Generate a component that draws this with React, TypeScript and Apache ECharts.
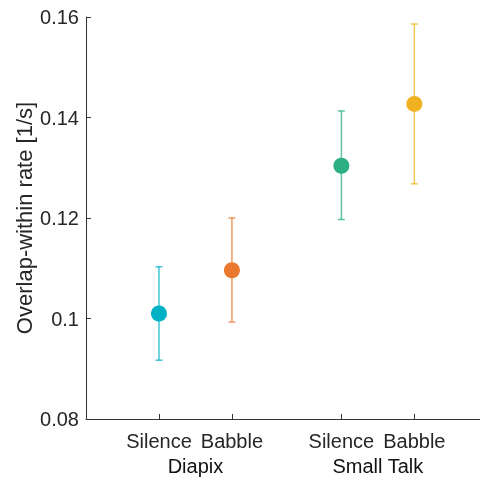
import React, { useEffect, useRef } from "react";
import * as echarts from "echarts";

const conditions = ["Silence", "Babble", "Silence", "Babble"];
const positions = [1, 2, 3.5, 4.5];
const groups = ["Diapix", "Small Talk"];
const groupPositions = [1.5, 4];
const means = [0.1010, 0.1096, 0.1304, 0.1427];
const lower = [0.0917, 0.0993, 0.1197, 0.1268];
const upper = [0.1103, 0.1200, 0.1413, 0.1586];
const colors = ["#00B1C5", "#E8792E", "#2DAF84", "#EFB11F"];
const yTicks = [0.08, 0.1, 0.12, 0.14, 0.16];

export default function App() {
  const ref = useRef<HTMLDivElement>(null);
  useEffect(() => {
    if (!ref.current) return;
    const chart = echarts.init(ref.current, null, { renderer: "svg" });
    const font = "'Liberation Sans', Arial, Helvetica, sans-serif";
    const axisColor = "#333333";
    const textColor = "#262626";
    chart.setOption({
      animation: false,
      grid: { left: 86, right: 0, top: 17, bottom: 58, containLabel: false },
      xAxis: [
        {
          type: "value",
          min: 0,
          max: 5.4,
          splitLine: { show: false },
          axisLine: { show: true, onZero: false, lineStyle: { color: axisColor, width: 1 } },
          axisTick: { show: true, inside: true, length: 5, customValues: positions, lineStyle: { color: axisColor } },
          axisLabel: {
            customValues: positions,
            margin: 12,
            fontSize: 20,
            fontFamily: font,
            color: textColor,
            formatter: (v: number) => {
              const i = positions.indexOf(v);
              return i >= 0 ? conditions[i] : "";
            },
          },
        },
        {
          type: "value",
          min: 0,
          max: 5.4,
          position: "bottom",
          offset: 27,
          splitLine: { show: false },
          axisLine: { show: false },
          axisTick: { show: false },
          axisLabel: {
            customValues: groupPositions,
            margin: 10,
            fontSize: 20,
            fontFamily: font,
            color: "#111111",
            formatter: (v: number) => {
              const i = groupPositions.indexOf(v);
              return i >= 0 ? groups[i] : "";
            },
          },
        },
      ],
      yAxis: {
        type: "value",
        min: 0.08,
        max: 0.16,
        interval: 0.02,
        name: "Overlap-within rate [1/s]",
        nameLocation: "middle",
        nameGap: 51,
        nameMoveOverlap: false,
        nameTextStyle: { fontSize: 22, fontFamily: font, color: textColor },
        splitLine: { show: false },
        axisLine: { show: true, lineStyle: { color: axisColor, width: 1 } },
        axisTick: { show: true, inside: true, length: 5, lineStyle: { color: axisColor } },
        axisLabel: {
          margin: 7,
          fontSize: 20,
          fontFamily: font,
          color: textColor,
          formatter: (v: number) => {
            const t = yTicks.find((x) => Math.abs(x - v) < 1e-9);
            return t !== undefined ? String(t) : "";
          },
        },
      },
      series: [
        {
          type: "custom",
          xAxisIndex: 0,
          data: positions.map((p, i) => [p, lower[i], upper[i], i]),
          renderItem: (params: any, api: any) => {
            const x = api.value(0);
            const lo = api.coord([x, api.value(1)]);
            const hi = api.coord([x, api.value(2)]);
            const idx = api.value(3);
            const c = colors[idx];
            const cap = 3.5;
            const style = { stroke: c, lineWidth: 1.5, opacity: 0.75 };
            return {
              type: "group",
              children: [
                { type: "line", shape: { x1: lo[0], y1: lo[1], x2: hi[0], y2: hi[1] }, style },
                { type: "line", shape: { x1: hi[0] - cap, y1: hi[1], x2: hi[0] + cap, y2: hi[1] }, style },
                { type: "line", shape: { x1: lo[0] - cap, y1: lo[1], x2: lo[0] + cap, y2: lo[1] }, style },
              ],
            };
          },
          z: 2,
        },
        {
          type: "scatter",
          xAxisIndex: 0,
          symbol: "circle",
          symbolSize: 16,
          itemStyle: { opacity: 1 },
          data: positions.map((p, i) => ({ value: [p, means[i]], itemStyle: { color: colors[i], opacity: 1 } })),
          z: 3,
        },
      ],
    });
    return () => chart.dispose();
  }, []);
  return <div ref={ref} style={{ width: 480, height: 477, position: "fixed", left: 0, top: 0 }} />;
}
